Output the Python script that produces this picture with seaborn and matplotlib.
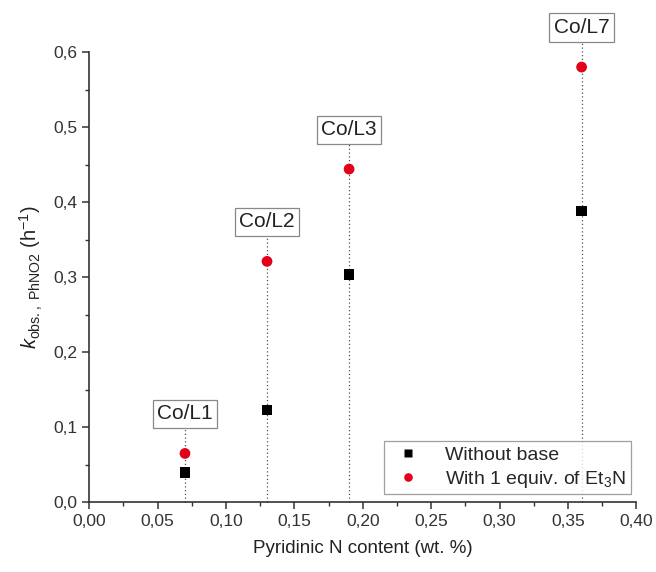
import numpy as np
import pandas as pd
import seaborn as sns
import matplotlib.pyplot as plt
from matplotlib.ticker import MultipleLocator, FuncFormatter

# data
catalysts = ['Co/L1', 'Co/L2', 'Co/L3', 'Co/L7']
pyridinic_n = [0.07, 0.13, 0.19, 0.36]
k_no_base = [0.040, 0.123, 0.304, 0.388]
k_et3n = [0.065, 0.321, 0.444, 0.580]
series_names = ['Without base', 'With 1 equiv. of Et$_3$N']

df = pd.DataFrame({
    'x': pyridinic_n * 2,
    'k': k_no_base + k_et3n,
    'series': [series_names[0]] * 4 + [series_names[1]] * 4,
})

sns.set_style('ticks')
plt.rcParams['font.family'] = ['Liberation Sans', 'DejaVu Sans']
plt.rcParams['mathtext.fontset'] = 'custom'
plt.rcParams['mathtext.rm'] = 'Liberation Sans'
plt.rcParams['mathtext.it'] = 'Liberation Sans:italic'

fig = plt.figure(figsize=(6.56, 5.72), dpi=100)
ax = fig.add_axes([0.136, 0.122, 0.834, 0.787])

# dotted guide lines from the axis up to each label box
label_bottom = [v + 0.04 for v in k_et3n]
ax.vlines(pyridinic_n, 0, label_bottom, colors='#555555', linestyles=(0, (1, 2)),
          linewidth=0.9, zorder=1, clip_on=False)

sns.scatterplot(data=df, x='x', y='k', hue='series', style='series',
                palette=['black', '#e3001b'], markers=['s', 'o'],
                s=60, edgecolor='none', ax=ax, zorder=3, clip_on=False)

for name, xv, yb in zip(catalysts, pyridinic_n, label_bottom):
    ax.text(xv, yb, name, ha='center', va='bottom', fontsize=15, color='#222222',
            bbox=dict(boxstyle='square,pad=0.22', fc='white', ec='#888888', lw=0.9),
            clip_on=False, zorder=4)

ax.set_xlim(0, 0.40)
ax.set_ylim(0, 0.60)
ax.xaxis.set_major_locator(MultipleLocator(0.05))
ax.xaxis.set_minor_locator(MultipleLocator(0.025))
ax.yaxis.set_major_locator(MultipleLocator(0.1))
ax.yaxis.set_minor_locator(MultipleLocator(0.05))
ax.xaxis.set_major_formatter(FuncFormatter(lambda v, p: f'{v:.2f}'.replace('.', ',')))
ax.yaxis.set_major_formatter(FuncFormatter(lambda v, p: f'{v:.1f}'.replace('.', ',')))
ax.tick_params(which='major', direction='out', length=5, width=1.1, labelsize=12.5, colors='#333333')
ax.tick_params(which='minor', direction='out', length=3, width=1.0, colors='#333333')

sns.despine(ax=ax)
for sp in ['left', 'bottom']:
    ax.spines[sp].set_linewidth(1.2)
    ax.spines[sp].set_color('#333333')

ax.set_xlabel('Pyridinic N content (wt. %)', fontsize=13.5, color='#222222', labelpad=8)
ax.set_ylabel(r'$k_{\mathrm{obs.,\ PhNO2}}$ (h$^{-1}$)', fontsize=14.5, color='#222222', labelpad=6)

handles, labels = ax.get_legend_handles_labels()
leg = ax.legend(handles, labels, loc='lower right', fontsize=14, frameon=True,
                fancybox=False, edgecolor='#888888', borderaxespad=0.4,
                bbox_to_anchor=(1.005, 0.0),
                handletextpad=0.9, borderpad=0.25, labelspacing=0.25, markerscale=0.8)
leg.get_frame().set_linewidth(0.9)

fig.savefig('out.png', dpi=100)
